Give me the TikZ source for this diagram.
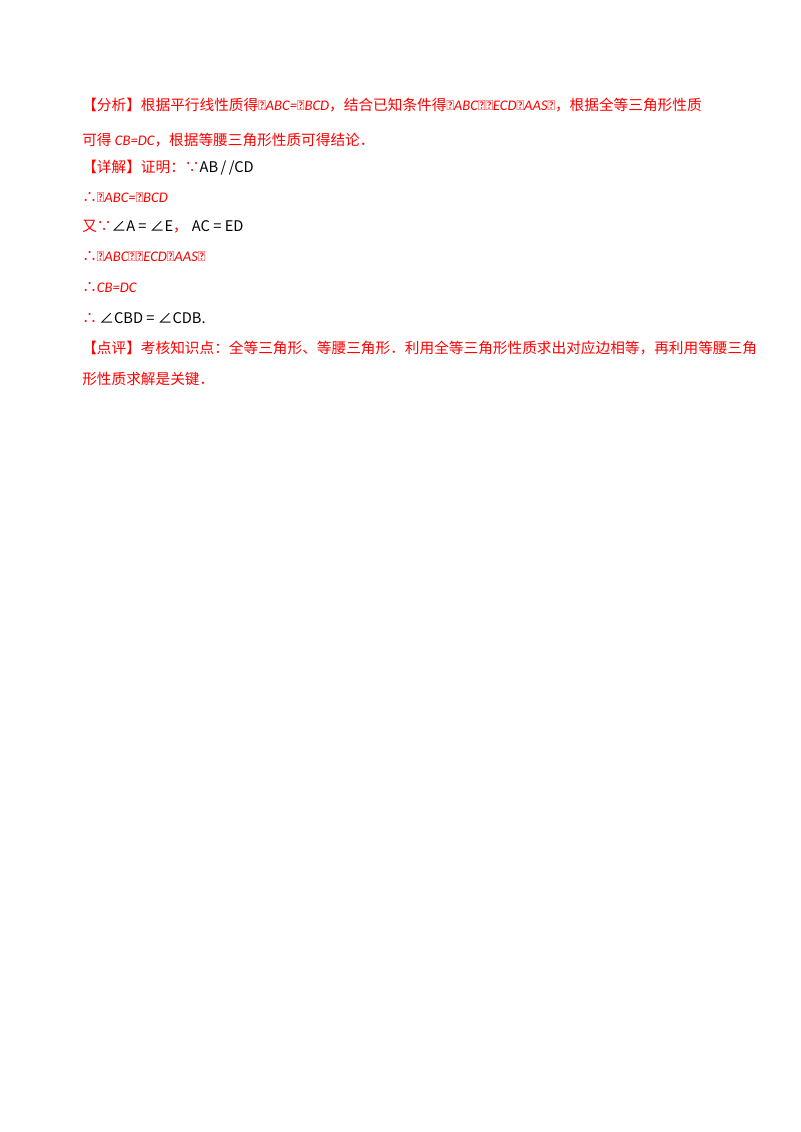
\documentclass[tikz,border=0pt]{standalone}
\usepackage{fontspec}
\setmainfont{Liberation Serif}
\newfontfamily\cjk{Noto Sans CJK SC}
\newfontfamily\lat{Carlito}
\definecolor{ansred}{RGB}{255,0,0}
\newcommand{\la}[1]{{\lat\itshape #1}}
\newcommand{\mth}[1]{{\color{black}\itshape #1}}
\begin{document}
\begin{tikzpicture}[x=0.75pt,y=0.75pt]
	\useasboundingbox (0,0) rectangle (800,-1132);
	\tikzset{line/.style={anchor=west, inner sep=0pt, text=ansred, font=\cjk\fontsize{11pt}{13pt}\selectfont}}
	\node[line] (l1) at (82,-105) {【分析】根据平行线性质得\la{∠ABC=∠BCD}，结合已知条件得\la{△ABC≅△ECD（AAS）}，根据全等三角形性质};
	\node[line] (l2) at (82,-140) {可得 \la{CB=DC}，根据等腰三角形性质可得结论．};
	\node[line] (l3) at (82,-168) {【详解】证明：∵\mth{AB\,/\,/CD}};
	\node[line] (l4) at (82,-198) {∴\la{∠ABC=∠BCD}};
	\node[line] (l5) at (82,-227) {又∵\mth{∠A = ∠E}，\;\mth{AC = ED}};
	\node[line] (l6) at (82,-257) {∴\la{△ABC≅△ECD（AAS）}};
	\node[line] (l7) at (82,-288) {∴\la{CB=DC}};
	\node[line] (l8) at (82,-318) {∴\,\mth{∠CBD = ∠CDB.}};
	\node[line] (l9) at (82,-348) {【点评】考核知识点：全等三角形、等腰三角形．利用全等三角形性质求出对应边相等，再利用等腰三角};
	\node[line] (l10) at (82,-379) {形性质求解是关键．};
\end{tikzpicture}
\end{document}
